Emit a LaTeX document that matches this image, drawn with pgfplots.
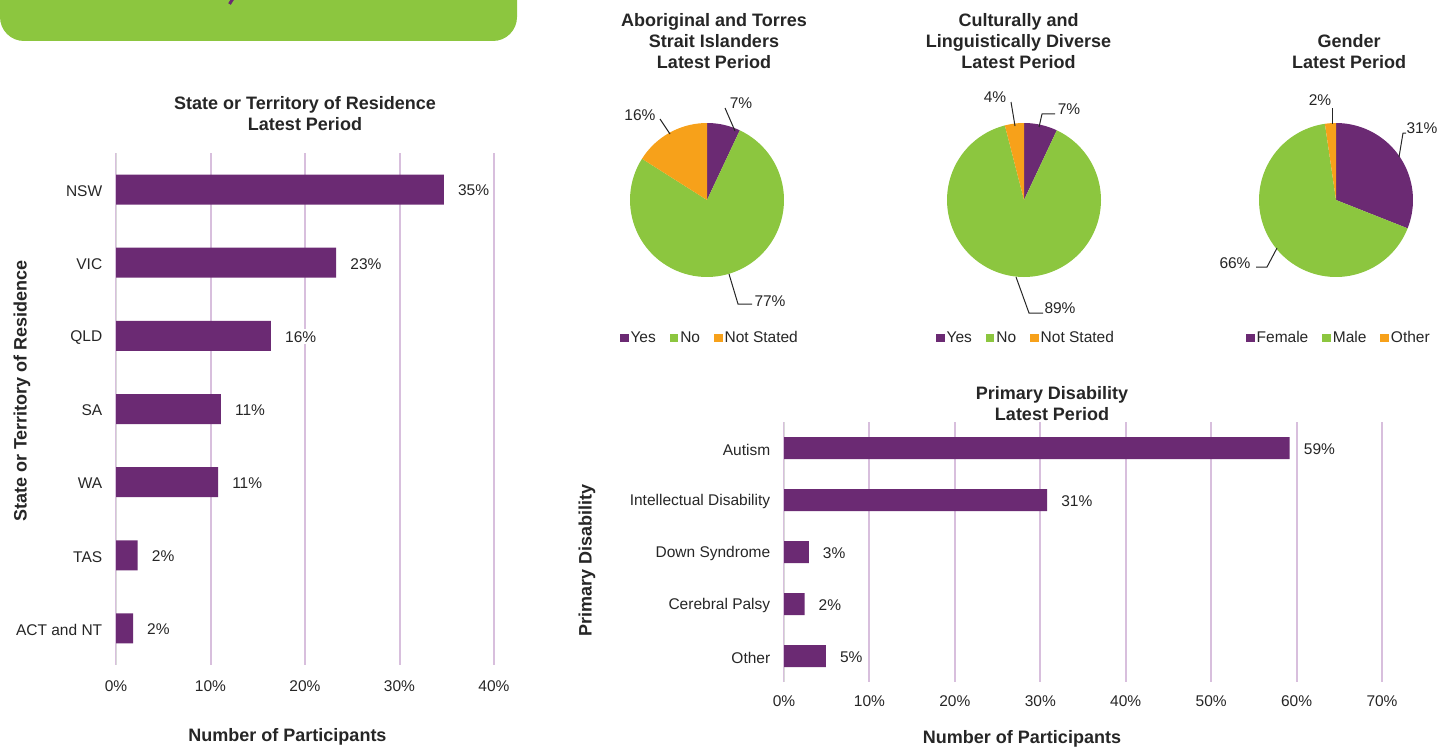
\documentclass[border=0pt]{standalone}
\usepackage{pgfplots}
\pgfplotsset{compat=1.18}
\usepackage{fontspec}
\setmainfont{Liberation Sans}
\definecolor{cpurple}{HTML}{6B2A73}
\definecolor{cgreen}{HTML}{8CC63F}
\definecolor{corange}{HTML}{F7A11A}
\definecolor{cgrid}{HTML}{D8BFDD}
\definecolor{czero}{HTML}{D9D9D9}
\definecolor{ctext}{HTML}{262626}
\newcommand{\lbl}{\fontsize{15.5}{18}\selectfont}
\newcommand{\ttl}{\bfseries\fontsize{18}{21}\selectfont}
\pgfplotsset{
  hbar/.style={
    xbar, scale only axis, y dir=reverse,
    axis line style={draw=none}, tick style={draw=none},
    xmajorgrids, ymajorgrids=false,
    major grid style={cgrid, line width=2pt},
    xticklabel={\pgfmathprintnumber{\tick}\%},
    /pgf/number format/assume math mode=true,
    tick label style={font=\lbl, text=ctext},
    yticklabel style={xshift=-6pt, yshift=-1.5pt},
    label style={font=\ttl, text=ctext},
    title style={font=\ttl, text=ctext, align=center, anchor=south},
    nodes near coords={\pgfmathprintnumber[fixed,precision=0]{\pgfplotspointmeta}\%},
    every node near coord/.append style={font=\lbl, text=ctext, fill=white, inner sep=2pt, xshift=12pt, yshift=-1pt},
  },
  pie/.style={
    scale only axis, width=154pt, height=154pt, hide axis,
    xmin=-1, xmax=1, ymin=-1, ymax=1, anchor=center, clip=false,
    title style={font=\ttl, text=ctext, align=center, anchor=south},
    legend columns=-1,
    legend style={draw=none, fill=none, font=\lbl, text=ctext, anchor=center, inner sep=0pt,
      /tikz/every even column/.append style={column sep=12pt}},
    legend image code/.code={\fill[##1] (0pt,-4.5pt) rectangle (8.5pt,4pt);},
  },
}
\begin{document}
\begin{tikzpicture}
\useasboundingbox (0pt,0pt) rectangle (1439pt,-749pt);
\fill[cgreen, rounded corners=24pt] (0pt,40pt) rectangle (517pt,-41pt);
\draw[cpurple, line width=3pt] (229.5pt,-4pt) -- (234pt,3pt);

% ---------- State or territory ----------
\begin{axis}[hbar, at={(116pt,-153pt)}, anchor=north west, width=378pt, height=512pt,
  xmin=0, xmax=40, xtick={0,10,20,30,40},
  xticklabel style={yshift=-12pt},
  ymin=-0.5, ymax=6.5, ytick={0,...,6},
  yticklabels={NSW,VIC,QLD,SA,WA,TAS,ACT and NT},
  bar width=30pt,
  title={State or Territory of Residence\\Latest Period},
  title style={at={(0.5,1)}, yshift=12.5pt},
  xlabel={Number of Participants},
  xlabel style={at={(axis description cs:0.4537,-0.1406)}, anchor=center},
  ylabel={State or Territory of Residence},
  ylabel style={at={(axis description cs:-0.2487,0.535)}, anchor=center},
]
\draw[czero, line width=2pt] (axis cs:0,-0.5) -- (axis cs:0,6.5);
\addplot[fill=cpurple, draw=none] coordinates {(34.7,0) (23.3,1) (16.4,2) (11.1,3) (10.8,4) (2.3,5) (1.8,6)};
\end{axis}

% ---------- Primary disability ----------
\begin{axis}[hbar, at={(784pt,-422pt)}, anchor=north west, width=598pt, height=260pt,
  xmin=0, xmax=70, xtick={0,10,...,70},
  xticklabel style={yshift=-10pt},
  ymin=-0.5, ymax=4.5, ytick={0,...,4},
  yticklabels={Autism,Intellectual Disability,Down Syndrome,Cerebral Palsy,Other},
  bar width=22pt,
  title={Primary Disability\\Latest Period},
  title style={at={(0.5,1)}, xshift=-31pt, yshift=-8pt},
  xlabel={Number of Participants},
  xlabel style={at={(axis description cs:0.398,-0.219)}, anchor=center},
  ylabel={Primary Disability},
  ylabel style={at={(axis description cs:-0.3294,0.469)}, anchor=center},
]
\draw[czero, line width=2pt] (axis cs:0,-0.5) -- (axis cs:0,4.5);
\addplot[fill=cpurple, draw=none] coordinates {(59.2,0) (30.8,1) (2.9,2) (2.4,3) (4.9,4)};
\end{axis}

% ---------- Pie 1 ----------
\begin{axis}[pie, at={(707pt,-200pt)},
  title={Aboriginal and Torres\\Strait Islanders\\Latest Period},
  title style={at={(0.5,1)}, xshift=7pt, yshift=45pt},
  legend style={at={(0.519,-0.393)}}]
\addplot[fill=cpurple, draw=none, domain=90:64.8, samples=20, variable=\t] ({cos(\t)},{sin(\t)}) -- (axis cs:0,0) -- cycle;
\addlegendentry{Yes}
\addplot[fill=cgreen, draw=none, domain=64.8:-212.4, samples=80, variable=\t] ({cos(\t)},{sin(\t)}) -- (axis cs:0,0) -- cycle;
\addlegendentry{No}
\addplot[fill=corange, draw=none, domain=-212.4:-270, samples=20, variable=\t] ({cos(\t)},{sin(\t)}) -- (axis cs:0,0) -- cycle;
\addlegendentry{Not Stated}
\end{axis}

% ---------- Pie 2 ----------
\begin{axis}[pie, at={(1024pt,-200pt)},
  title={Culturally and\\Linguistically Diverse\\Latest Period},
  title style={at={(0.5,1)}, xshift=-5.5pt, yshift=45pt},
  legend style={at={(0.513,-0.393)}}]
\addplot[fill=cpurple, draw=none, domain=90:64.8, samples=20, variable=\t] ({cos(\t)},{sin(\t)}) -- (axis cs:0,0) -- cycle;
\addlegendentry{Yes}
\addplot[fill=cgreen, draw=none, domain=64.8:-255.6, samples=90, variable=\t] ({cos(\t)},{sin(\t)}) -- (axis cs:0,0) -- cycle;
\addlegendentry{No}
\addplot[fill=corange, draw=none, domain=-255.6:-270, samples=10, variable=\t] ({cos(\t)},{sin(\t)}) -- (axis cs:0,0) -- cycle;
\addlegendentry{Not Stated}
\end{axis}

% ---------- Pie 3 ----------
\begin{axis}[pie, at={(1336pt,-200pt)},
  title={Gender\\Latest Period},
  title style={at={(0.5,1)}, xshift=13pt, yshift=45pt},
  legend style={at={(0.519,-0.393)}}]
\addplot[fill=cpurple, draw=none, domain=90:-21.6, samples=40, variable=\t] ({cos(\t)},{sin(\t)}) -- (axis cs:0,0) -- cycle;
\addlegendentry{Female}
\addplot[fill=cgreen, draw=none, domain=-21.6:-261.7, samples=80, variable=\t] ({cos(\t)},{sin(\t)}) -- (axis cs:0,0) -- cycle;
\addlegendentry{Male}
\addplot[fill=corange, draw=none, domain=-261.7:-270, samples=10, variable=\t] ({cos(\t)},{sin(\t)}) -- (axis cs:0,0) -- cycle;
\addlegendentry{Other}
\end{axis}

% ---------- pie data labels ----------
\begin{scope}[draw=ctext, line width=1pt]
\draw (735pt,-131pt) -- (725pt,-108pt);
\draw (670pt,-134pt) -- (660pt,-119pt);
\draw (729pt,-274pt) -- (738pt,-304pt) -- (752pt,-304pt);
\draw (1015pt,-126pt) -- (1011pt,-102pt);
\draw (1039pt,-127pt) -- (1042pt,-114pt) -- (1055pt,-114pt);
\draw (1016pt,-277pt) -- (1029pt,-313pt) -- (1043pt,-313pt);
\draw (1332pt,-124pt) -- (1332pt,-108pt);
\draw (1399pt,-157pt) -- (1403pt,-133pt) -- (1406pt,-133pt);
\draw (1277pt,-248pt) -- (1267pt,-267pt) -- (1256pt,-267pt);
\end{scope}
\begin{scope}[every node/.style={font=\lbl, text=ctext, inner sep=0pt}]
\node at (741pt,-103pt) {7\%};
\node at (640pt,-115pt) {16\%};
\node at (770pt,-301pt) {77\%};
\node at (995pt,-97pt) {4\%};
\node at (1069pt,-109pt) {7\%};
\node at (1060pt,-308pt) {89\%};
\node at (1320pt,-100pt) {2\%};
\node at (1422pt,-128pt) {31\%};
\node at (1235pt,-263pt) {66\%};
\end{scope}
\end{tikzpicture}
\end{document}
